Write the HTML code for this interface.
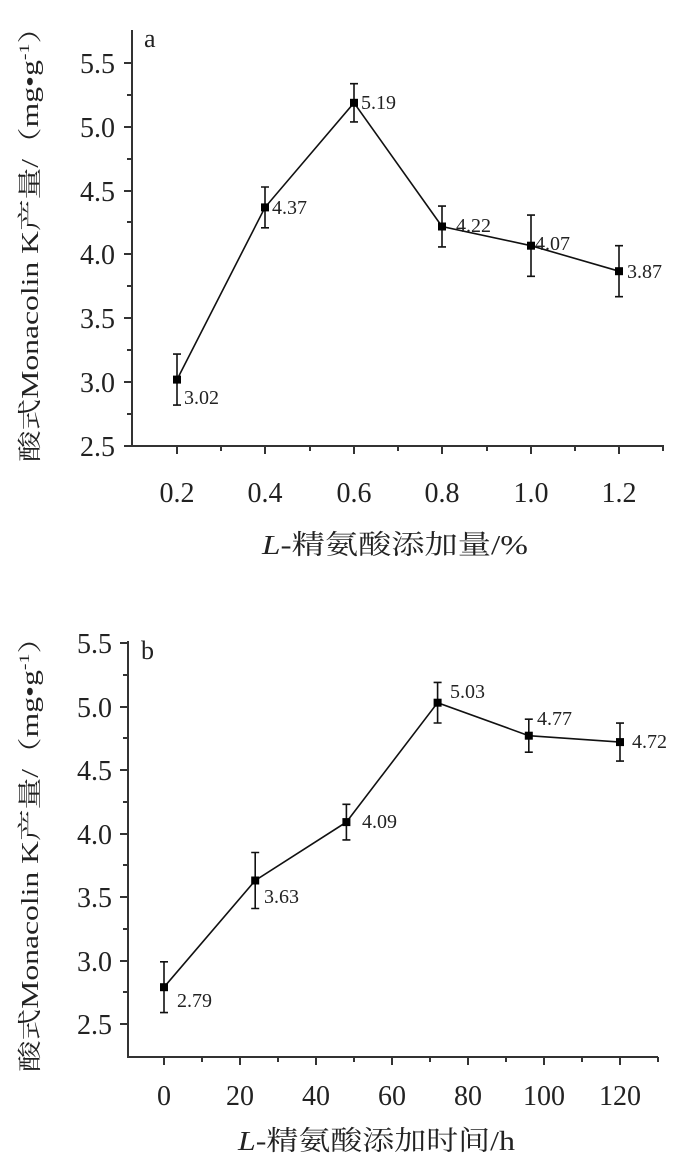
<!DOCTYPE html>
<html><head><meta charset="utf-8"><style>
html,body{margin:0;padding:0;background:#fff;}
svg{display:block;}
text{font-family:"Liberation Serif","Noto Serif CJK SC","Noto Sans CJK SC",serif;fill:#222;}
</style></head><body>
<svg width="677" height="1167" viewBox="0 0 677 1167" xmlns="http://www.w3.org/2000/svg">
<g stroke="#333" stroke-width="2" fill="none">
<line x1="132" y1="30" x2="132" y2="447"/>
<line x1="131" y1="446" x2="664" y2="446"/>
<path d="M124 63H132M124 127H132M124 191H132M124 254H132M124 318H132M124 382H132M124 446H132"/>
<path d="M127 95H132M127 159H132M127 222H132M127 286H132M127 350H132M127 414H132"/>
<path d="M177 446V454M265 446V454M354 446V454M442 446V454M531 446V454M619 446V454"/>
<path d="M221 446V451M310 446V451M398 446V451M487 446V451M575 446V451M663 446V451"/>
<line x1="128" y1="641" x2="128" y2="1058"/>
<line x1="127" y1="1057" x2="658" y2="1057"/>
<path d="M120 643H128M120 707H128M120 770H128M120 834H128M120 897H128M120 961H128M120 1024H128"/>
<path d="M123 675H128M123 738H128M123 802H128M123 865H128M123 929H128M123 992H128"/>
<path d="M164 1057V1065M240 1057V1065M316 1057V1065M392 1057V1065M468 1057V1065M544 1057V1065M620 1057V1065"/>
<path d="M202 1057V1062M278 1057V1062M354 1057V1062M430 1057V1062M506 1057V1062M582 1057V1062M658 1057V1062"/>
</g>
<g stroke="#111" stroke-width="1.6" fill="none">
<polyline points="177,379.6 265,207.4 354,102.8 442,226.5 531,245.7 619,271.2"/>
<path d="M177 354.1V405.1M173 354.1H181M173 405.1H181"/>
<path d="M265 187V227.8M261 187H269M261 227.8H269"/>
<path d="M354 83.7V121.9M350 83.7H358M350 121.9H358"/>
<path d="M442 206.1V246.9M438 206.1H446M438 246.9H446"/>
<path d="M531 215.1V276.3M527 215.1H535M527 276.3H535"/>
<path d="M619 245.7V296.7M615 245.7H623M615 296.7H623"/>
</g>
<g fill="#000">
<rect x="173" y="375.6" width="8" height="8"/><rect x="261" y="203.4" width="8" height="8"/>
<rect x="350" y="98.8" width="8" height="8"/><rect x="438" y="222.5" width="8" height="8"/>
<rect x="527" y="241.7" width="8" height="8"/><rect x="615" y="267.2" width="8" height="8"/>
</g>
<g font-size="20">
<text x="184" y="404">3.02</text><text x="272" y="214">4.37</text>
<text x="361" y="109">5.19</text><text x="456" y="232">4.22</text>
<text x="535" y="250">4.07</text><text x="627" y="278">3.87</text>
</g>
<g stroke="#111" stroke-width="1.6" fill="none">
<polyline points="164,987.2 255.2,880.5 346.4,822.1 437.6,702.7 528.8,735.7 620,742.1"/>
<path d="M164 961.8V1012.6M160 961.8H168M160 1012.6H168"/>
<path d="M255.2 852.5V908.5M251.2 852.5H259.2M251.2 908.5H259.2"/>
<path d="M346.4 804.3V839.9M342.4 804.3H350.4M342.4 839.9H350.4"/>
<path d="M437.6 682.4V723M433.6 682.4H441.6M433.6 723H441.6"/>
<path d="M528.8 719.2V752.2M524.8 719.2H532.8M524.8 752.2H532.8"/>
<path d="M620 723.1V761.1M616 723.1H624M616 761.1H624"/>
</g>
<g fill="#000">
<rect x="160" y="983.2" width="8" height="8"/><rect x="251.2" y="876.5" width="8" height="8"/>
<rect x="342.4" y="818.1" width="8" height="8"/><rect x="433.6" y="698.7" width="8" height="8"/>
<rect x="524.8" y="731.7" width="8" height="8"/><rect x="616" y="738.1" width="8" height="8"/>
</g>
<g font-size="20">
<text x="177" y="1007">2.79</text><text x="264" y="903">3.63</text>
<text x="362" y="828">4.09</text><text x="450" y="698">5.03</text>
<text x="537" y="725">4.77</text><text x="632" y="748">4.72</text>
</g>
<g font-size="28" text-anchor="end">
<text x="115" y="73">5.5</text><text x="115" y="137">5.0</text><text x="115" y="201">4.5</text>
<text x="115" y="264">4.0</text><text x="115" y="328">3.5</text><text x="115" y="392">3.0</text>
<text x="115" y="456">2.5</text>
</g>
<g font-size="28" text-anchor="middle">
<text x="177" y="502">0.2</text><text x="265" y="502">0.4</text><text x="354" y="502">0.6</text>
<text x="442" y="502">0.8</text><text x="531" y="502">1.0</text><text x="619" y="502">1.2</text>
</g>
<g font-size="28" text-anchor="end">
<text x="112" y="653">5.5</text><text x="112" y="717">5.0</text><text x="112" y="780">4.5</text>
<text x="112" y="844">4.0</text><text x="112" y="907">3.5</text><text x="112" y="971">3.0</text>
<text x="112" y="1034">2.5</text>
</g>
<g font-size="28" text-anchor="middle">
<text x="164" y="1105">0</text><text x="240" y="1105">20</text><text x="316" y="1105">40</text>
<text x="392" y="1105">60</text><text x="468" y="1105">80</text><text x="544" y="1105">100</text>
<text x="620" y="1105">120</text>
</g>
<text x="144" y="47" font-size="26">a</text>
<text x="141" y="659" font-size="26">b</text>
<text x="262" y="554" font-size="27" textLength="266" lengthAdjust="spacingAndGlyphs"><tspan font-style="italic">L</tspan>-精氨酸添加量/%</text>
<text x="238" y="1150" font-size="27" textLength="277" lengthAdjust="spacingAndGlyphs"><tspan font-style="italic">L</tspan>-精氨酸添加时间/h</text>
<text transform="translate(38,462) rotate(-90)" font-size="24" textLength="450" lengthAdjust="spacingAndGlyphs">酸式Monacolin K产量/（mg•g<tspan font-size="15" dy="-9">-1</tspan><tspan dy="9">）</tspan></text>
<text transform="translate(38,1072) rotate(-90)" font-size="24" textLength="450" lengthAdjust="spacingAndGlyphs">酸式Monacolin K产量/（mg•g<tspan font-size="15" dy="-9">-1</tspan><tspan dy="9">）</tspan></text>
</svg>
</body></html>
